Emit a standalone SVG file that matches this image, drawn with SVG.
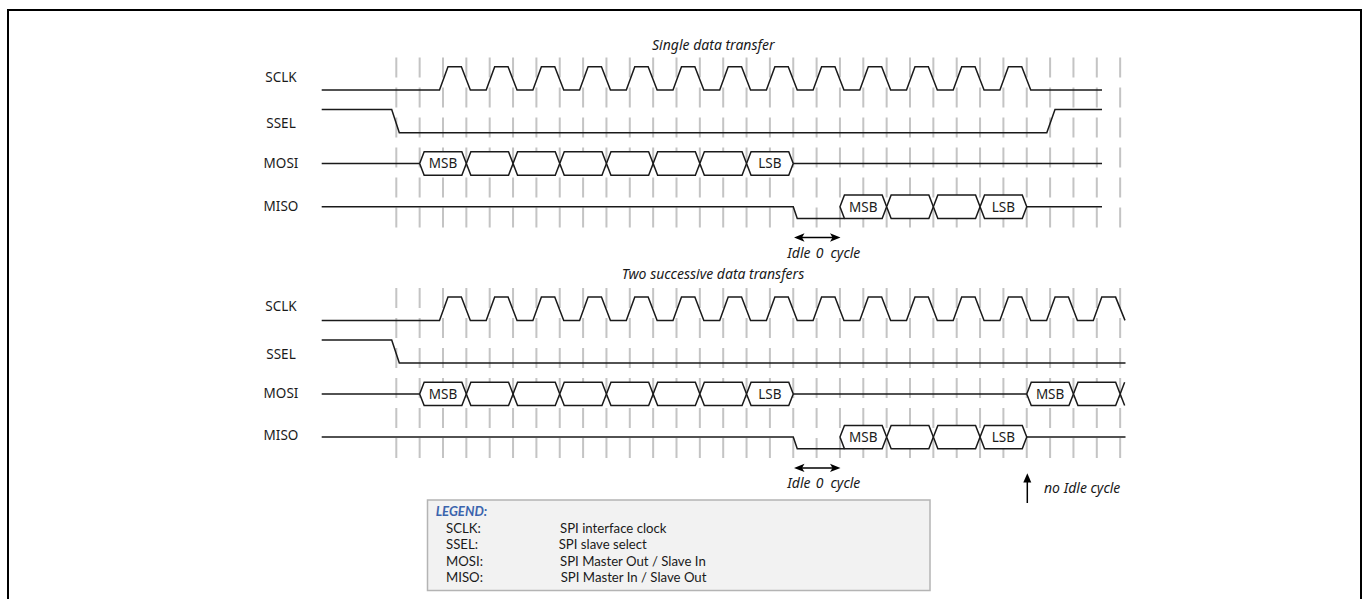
<svg xmlns="http://www.w3.org/2000/svg" xmlns:xlink="http://www.w3.org/1999/xlink" width="1369" height="599" viewBox="0 0 1369 599">
<defs>
<style>
.sig{fill:none;stroke:#1a1a1a;stroke-width:1.5;stroke-linejoin:miter}
.bus{fill:#fff;stroke:#1a1a1a;stroke-width:1.5}
.grid{fill:none;stroke:#c4c4c4;stroke-width:2;stroke-dasharray:20 10}
.lbl{font-family:"Noto Sans","DejaVu Sans",sans-serif;font-size:13.5px;fill:#1a1a1a;text-anchor:middle}
.bt{font-family:"Noto Sans","DejaVu Sans",sans-serif;font-size:13.5px;fill:#1a1a1a;text-anchor:middle}
.it{font-family:"Noto Sans","DejaVu Sans",sans-serif;font-size:14px;font-style:italic;fill:#1a1a1a}
.lg{font-family:Lato,"Liberation Sans",sans-serif;font-size:13.2px;fill:#1a1a1a}
.arr{fill:#000}
.ash{stroke:#000;stroke-width:1.5;fill:none}
</style>
<polygon id="hex" points="0,0 4.5,-11.7 42.2,-11.7 46.7,0 42.2,11.7 4.5,11.7"/>
<path id="gridpath" class="grid" d="M396.3 57.5V227.5M419.65 57.5V227.5M443 57.5V227.5M466.35 57.5V227.5M489.7 57.5V227.5M513.05 57.5V227.5M536.4 57.5V227.5M559.75 57.5V227.5M583.1 57.5V227.5M606.45 57.5V227.5M629.8 57.5V227.5M653.15 57.5V227.5M676.5 57.5V227.5M699.85 57.5V227.5M723.2 57.5V227.5M746.55 57.5V227.5M769.9 57.5V227.5M793.25 57.5V227.5M816.6 57.5V227.5M839.95 57.5V227.5M863.3 57.5V227.5M886.65 57.5V227.5M910 57.5V227.5M933.35 57.5V227.5M956.7 57.5V227.5M980.05 57.5V227.5M1003.4 57.5V227.5M1026.75 57.5V227.5M1050.1 57.5V227.5M1073.45 57.5V227.5M1096.8 57.5V227.5M1120.15 57.5V227.5"/>
<g id="idlemark">
<line class="ash" x1="800" y1="237.5" x2="835" y2="237.5"/>
<polygon class="arr" points="794,237.5 804.5,233.3 802,237.5 804.5,241.7"/>
<polygon class="arr" points="840.5,237.5 830,233.3 832.5,237.5 830,241.7"/>
<text class="it" y="257.5"><tspan x="787.3">Idle</tspan><tspan x="815.8">0</tspan><tspan x="830.5">cycle</tspan></text>
</g>
</defs>

<rect width="1369" height="599" fill="#fff"/>
<path d="M8,600 L8,10 L1361,10 L1361,600" fill="none" stroke="#000" stroke-width="2"/>

<!-- Section 1: single data transfer -->
<g id="single-transfer">
<use xlink:href="#gridpath"/>
<text class="it" x="713.3" y="49.5" text-anchor="middle">Single data transfer</text>
<g id="sclk1">
<text class="lbl" x="281" y="81.5">SCLK</text>
<path class="sig" d="M321.7,90 L439.5,90 L448,66.7 L461.35,66.7 L470.35,90 L486.2,90 L494.7,66.7 L508.05,66.7 L517.05,90 L532.9,90 L541.4,66.7 L554.75,66.7 L563.75,90 L579.6,90 L588.1,66.7 L601.45,66.7 L610.45,90 L626.3,90 L634.8,66.7 L648.15,66.7 L657.15,90 L673,90 L681.5,66.7 L694.85,66.7 L703.85,90 L719.7,90 L728.2,66.7 L741.55,66.7 L750.55,90 L766.4,90 L774.9,66.7 L788.25,66.7 L797.25,90 L813.1,90 L821.6,66.7 L834.95,66.7 L843.95,90 L859.8,90 L868.3,66.7 L881.65,66.7 L890.65,90 L906.5,90 L915,66.7 L928.35,66.7 L937.35,90 L953.2,90 L961.7,66.7 L975.05,66.7 L984.05,90 L999.9,90 L1008.4,66.7 L1021.75,66.7 L1030.75,90 L1102,90"/>
</g>
<g id="ssel1">
<text class="lbl" x="281" y="128">SSEL</text>
<path class="sig" d="M321.7,109.5 L391.7,109.5 L399.3,132.7 L1046.8,132.7 L1055,109.5 L1102,109.5"/>
</g>
<g id="mosi1">
<text class="lbl" x="281" y="168">MOSI</text>
<path class="sig" d="M321.7,163.5 L419.65,163.5 M793.25,163.5 L1102,163.5"/>
<use class="bus" xlink:href="#hex" x="419.65" y="163.5"/>
<use class="bus" xlink:href="#hex" x="466.35" y="163.5"/>
<use class="bus" xlink:href="#hex" x="513.05" y="163.5"/>
<use class="bus" xlink:href="#hex" x="559.75" y="163.5"/>
<use class="bus" xlink:href="#hex" x="606.45" y="163.5"/>
<use class="bus" xlink:href="#hex" x="653.15" y="163.5"/>
<use class="bus" xlink:href="#hex" x="699.85" y="163.5"/>
<use class="bus" xlink:href="#hex" x="746.55" y="163.5"/>
<text class="bt" x="443" y="168.4">MSB</text>
<text class="bt" x="769.9" y="168.4">LSB</text>
</g>
<g id="miso1">
<text class="lbl" x="281" y="210.5">MISO</text>
<path class="sig" d="M321.7,206.7 L793.25,206.7 L797.25,218.4 L844.45,218.4 M1026.75,206.7 L1102,206.7"/>
<use class="bus" xlink:href="#hex" x="839.95" y="206.7"/>
<use class="bus" xlink:href="#hex" x="886.65" y="206.7"/>
<use class="bus" xlink:href="#hex" x="933.35" y="206.7"/>
<use class="bus" xlink:href="#hex" x="980.05" y="206.7"/>
<text class="bt" x="863.3" y="211.6">MSB</text>
<text class="bt" x="1003.4" y="211.6">LSB</text>
</g>
<use id="idle1" xlink:href="#idlemark"/>
</g>

<!-- Section 2: two successive data transfers -->
<g id="two-transfers" transform="translate(0,230.4)">
<use xlink:href="#gridpath"/>
<text class="it" x="713" y="49" text-anchor="middle">Two successive data transfers</text>
<g id="sclk2">
<text class="lbl" x="281" y="81">SCLK</text>
<path class="sig" d="M321.7,90 L439.5,90 L448,66.7 L461.35,66.7 L470.35,90 L486.2,90 L494.7,66.7 L508.05,66.7 L517.05,90 L532.9,90 L541.4,66.7 L554.75,66.7 L563.75,90 L579.6,90 L588.1,66.7 L601.45,66.7 L610.45,90 L626.3,90 L634.8,66.7 L648.15,66.7 L657.15,90 L673,90 L681.5,66.7 L694.85,66.7 L703.85,90 L719.7,90 L728.2,66.7 L741.55,66.7 L750.55,90 L766.4,90 L774.9,66.7 L788.25,66.7 L797.25,90 L813.1,90 L821.6,66.7 L834.95,66.7 L843.95,90 L859.8,90 L868.3,66.7 L881.65,66.7 L890.65,90 L906.5,90 L915,66.7 L928.35,66.7 L937.35,90 L953.2,90 L961.7,66.7 L975.05,66.7 L984.05,90 L999.9,90 L1008.4,66.7 L1021.75,66.7 L1030.75,90 L1046.6,90 L1055.1,66.7 L1068.45,66.7 L1077.45,90 L1093.3,90 L1101.8,66.7 L1115.6,66.7 L1125,90"/>
</g>
<g id="ssel2">
<text class="lbl" x="281" y="129">SSEL</text>
<path class="sig" d="M321.7,109.5 L391.7,109.5 L399.3,132.7 L1125.5,132.7"/>
</g>
<g id="mosi2">
<text class="lbl" x="281" y="167.5">MOSI</text>
<path class="sig" d="M321.7,163.5 L419.65,163.5 M793.25,163.5 L1026.75,163.5 M1120.15,163.5 L1124.65,151.8 M1120.15,163.5 L1124.65,175.2"/>
<use class="bus" xlink:href="#hex" x="419.65" y="163.5"/>
<use class="bus" xlink:href="#hex" x="466.35" y="163.5"/>
<use class="bus" xlink:href="#hex" x="513.05" y="163.5"/>
<use class="bus" xlink:href="#hex" x="559.75" y="163.5"/>
<use class="bus" xlink:href="#hex" x="606.45" y="163.5"/>
<use class="bus" xlink:href="#hex" x="653.15" y="163.5"/>
<use class="bus" xlink:href="#hex" x="699.85" y="163.5"/>
<use class="bus" xlink:href="#hex" x="746.55" y="163.5"/>
<use class="bus" xlink:href="#hex" x="1026.75" y="163.5"/>
<use class="bus" xlink:href="#hex" x="1073.45" y="163.5"/>
<text class="bt" x="443" y="168.4">MSB</text>
<text class="bt" x="769.9" y="168.4">LSB</text>
<text class="bt" x="1050.1" y="168.4">MSB</text>
</g>
<g id="miso2">
<text class="lbl" x="281" y="209.5">MISO</text>
<path class="sig" d="M321.7,206.7 L793.25,206.7 L797.25,218.4 L844.45,218.4 M1026.75,206.7 L1125.5,206.7"/>
<use class="bus" xlink:href="#hex" x="839.95" y="206.7"/>
<use class="bus" xlink:href="#hex" x="886.65" y="206.7"/>
<use class="bus" xlink:href="#hex" x="933.35" y="206.7"/>
<use class="bus" xlink:href="#hex" x="980.05" y="206.7"/>
<text class="bt" x="863.3" y="211.6">MSB</text>
<text class="bt" x="1003.4" y="211.6">LSB</text>
</g>
<use id="idle2" xlink:href="#idlemark"/>
</g>

<g id="no-idle">
<line class="ash" x1="1027.3" y1="480" x2="1027.3" y2="503"/>
<polygon class="arr" points="1027.3,473.3 1023.3,482.5 1031.3,482.5"/>
<text class="it" x="1044" y="493">no Idle cycle</text>
</g>

<g id="legend">
<rect x="427.5" y="500" width="502.5" height="90.5" fill="#f2f2f2" stroke="#b4b4b4" stroke-width="1.5"/>
<text class="lg" x="435.7" y="516" style="fill:#3b64ad;font-weight:bold;font-style:italic">LEGEND:</text>
<text class="lg" x="446" y="532.8">SCLK:</text>
<text class="lg" x="560" y="532.8">SPI interface clock</text>
<text class="lg" x="446" y="549.3">SSEL:</text>
<text class="lg" x="558.7" y="549.3">SPI slave select</text>
<text class="lg" x="446" y="565.5">MOSI:</text>
<text class="lg" x="560" y="565.5">SPI Master Out / Slave In</text>
<text class="lg" x="446" y="582">MISO:</text>
<text class="lg" x="560.7" y="582">SPI Master In / Slave Out</text>
</g>
</svg>
